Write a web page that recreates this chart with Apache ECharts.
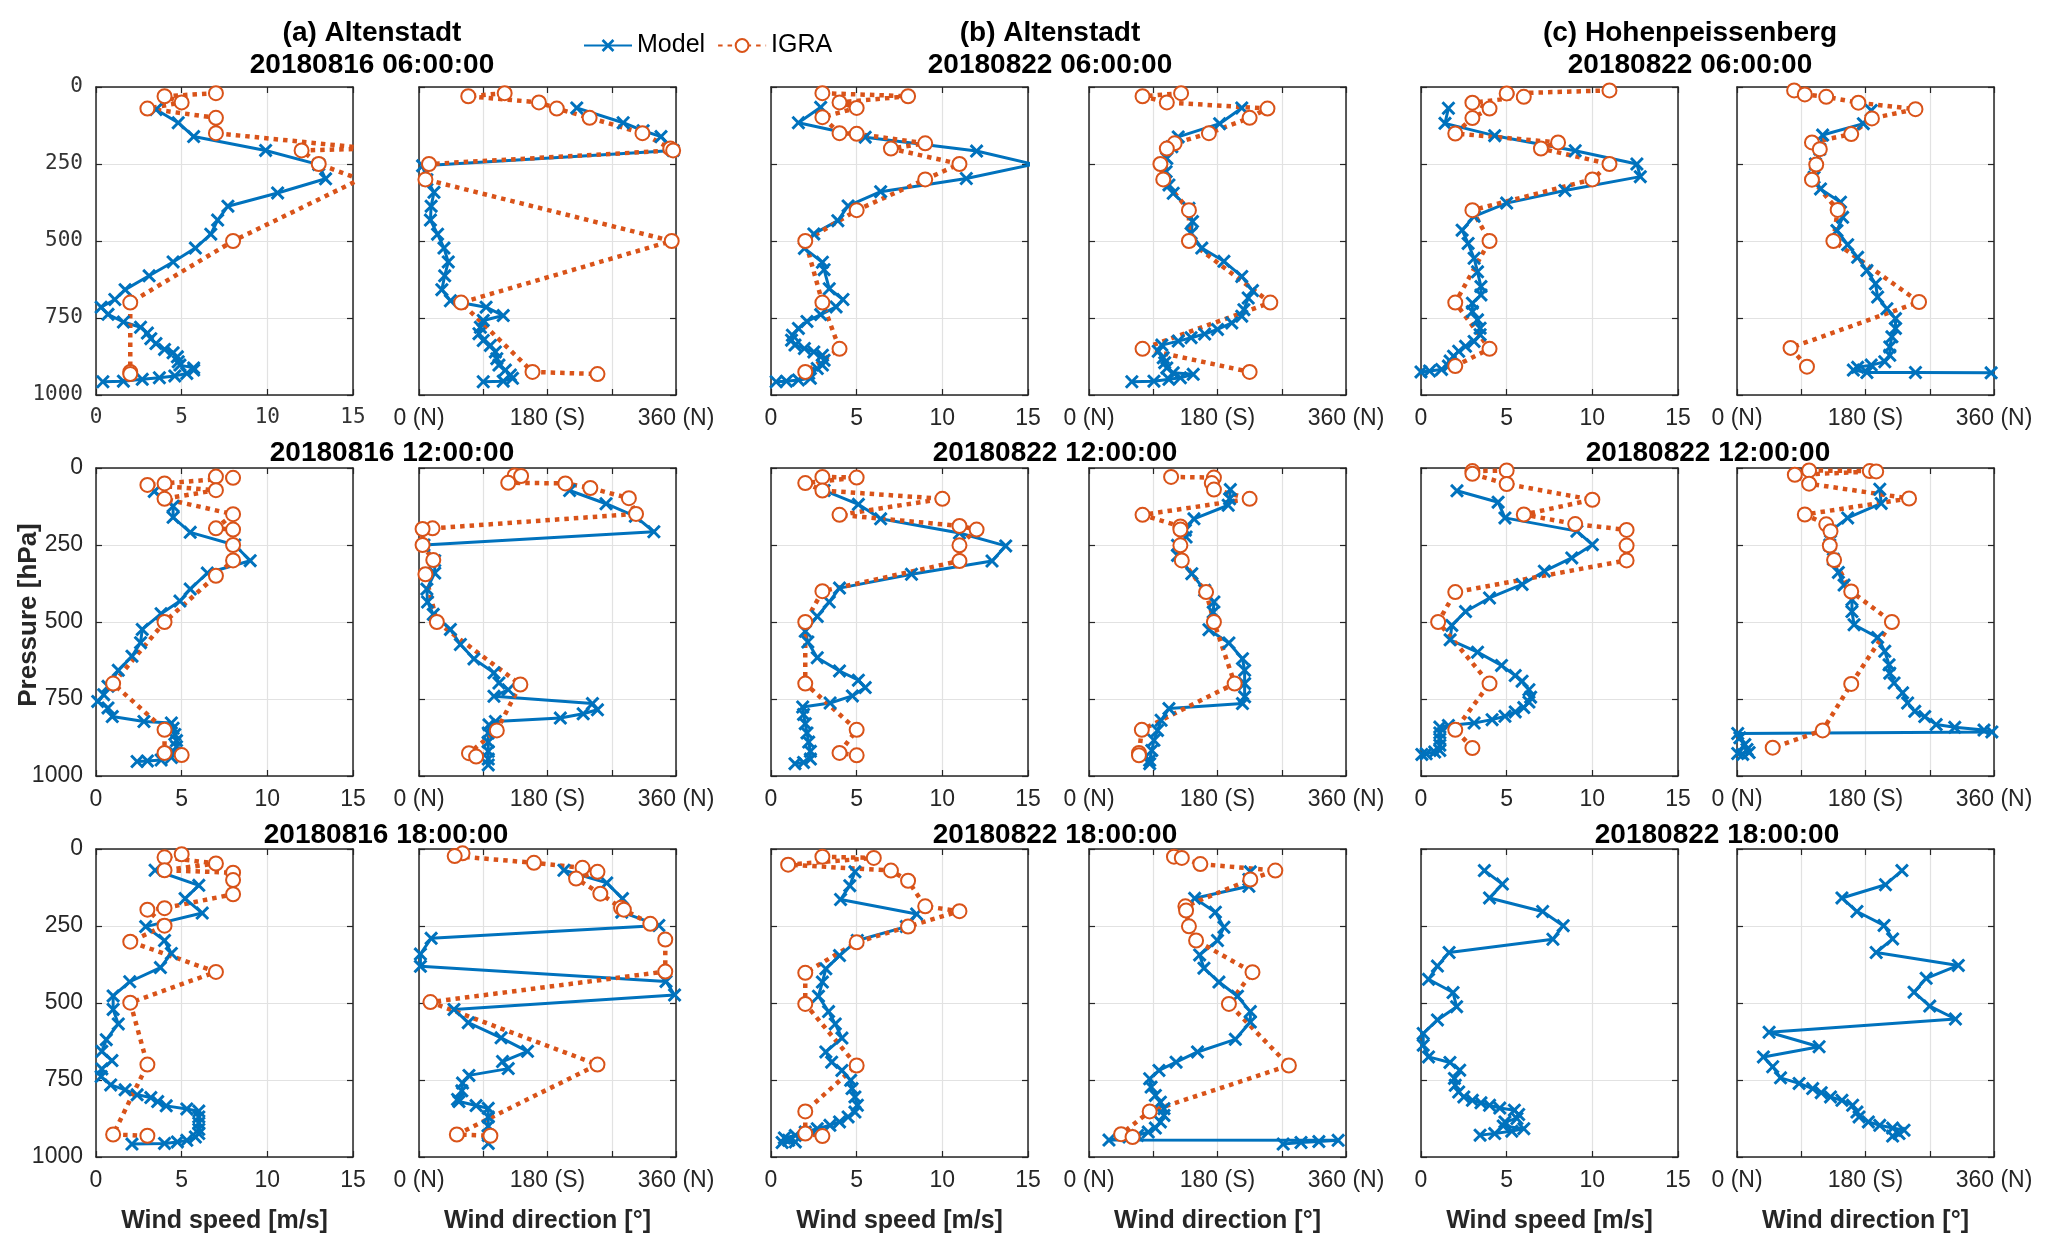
<!DOCTYPE html>
<html>
<head>
<meta charset="utf-8">
<script src="https://cdn.jsdelivr.net/npm/echarts@6/dist/echarts.min.js"></script>
<style>
  html, body { margin: 0; padding: 0; background: #fff; }
  #profiles { width: 2067px; height: 1242px; }
</style>
</head>
<body>
<div id="profiles"></div>
<script>
// each point is [value, pressure hPa]
// ---- 06:00 ----
var a06_spd_mod = [[3.5,73],[4.8,116],[5.7,161],[9.9,206],[13.0,252],[13.4,298],[10.6,344],[7.7,387],[7.1,432],[6.7,478],[5.8,523],[4.5,568],[3.1,613],[1.7,658],[1.1,690],[0.3,715],[0.7,738],[1.6,763],[2.6,780],[3.0,799],[3.2,817],[3.5,833],[4.0,852],[4.5,863],[4.75,876],[4.8,892],[4.9,903],[5.7,912],[5.7,919],[5.3,930],[4.6,938],[3.7,944],[2.7,949],[1.6,955],[0.4,957]];
var a06_spd_igra = [[7,20],[4,30],[5,50],[3,70],[7,100],[7,150],[16,200],[12,206],[13,250],[15.4,300],[8,500],[2,700],[2,925],[2,932]];
var a06_dir_mod = [[221,68],[286,116],[314,142],[339,161],[356,206],[5,256],[11,301],[21,342],[17,387],[16,432],[26,478],[35,523],[41,568],[36,613],[32,658],[44,694],[94,715],[118,742],[90,758],[86,780],[84,801],[90,823],[100,839],[107,860],[109,882],[112,903],[121,919],[128,935],[131,946],[118,955],[90,957]];
var a06_dir_igra = [[120,20],[69,30],[168,50],[193,70],[239,100],[313,150],[352,200],[356,206],[14,250],[9,300],[354,500],[59,700],[159,925],[250,932]];

var b06_spd_mod = [[2.9,66],[1.6,116],[5.5,163],[12.0,208],[15.3,251],[11.4,297],[6.4,340],[4.5,386],[3.9,434],[2.5,477],[1.95,524],[3.0,569],[3.1,593],[3.4,655],[4.2,690],[3.8,714],[2.9,739],[2.1,761],[1.6,784],[1.25,806],[1.2,822],[1.4,838],[1.95,849],[2.5,860],[3.0,871],[3.1,887],[3.0,903],[2.7,914],[2.2,930],[2.3,946],[1.6,951],[0.9,955],[0.3,957]];
var b06_spd_igra = [[3,20],[8,30],[4,50],[5,68],[3,98],[4,150],[5,152],[9,183],[7,200],[11,250],[9,300],[5,400],[2,500],[3,700],[4,850],[2,925]];
var b06_dir_mod = [[214,68],[183,119],[125,162],[116,194],[109,232],[108,275],[112,318],[118,345],[140,394],[145,437],[143,475],[158,523],[189,566],[214,615],[229,661],[223,685],[217,723],[214,744],[200,766],[180,787],[162,802],[143,814],[125,825],[102,838],[97,858],[104,879],[106,895],[109,912],[118,928],[146,933],[128,944],[112,949],[91,955],[60,957]];
var b06_dir_igra = [[129,20],[75,30],[109,50],[250,70],[225,100],[168,150],[120,183],[109,200],[100,250],[104,300],[140,400],[140,500],[254,700],[75,850],[225,925]];

var c06_spd_mod = [[1.6,69],[1.4,118],[4.3,158],[9.0,207],[12.6,250],[12.8,291],[8.4,336],[5.0,377],[3.1,420],[2.4,465],[2.75,508],[3.1,556],[3.3,600],[3.5,648],[3.5,675],[3.0,702],[3.0,729],[3.3,756],[3.45,783],[3.45,804],[3.1,826],[2.6,842],[2.2,858],[1.9,874],[1.7,890],[1.6,906],[1.2,917],[0.5,922],[0,925]];
var c06_spd_igra = [[11,11],[5,21],[6,32],[3,51],[4,70],[3,101],[2,151],[8,180],[7,200],[11,250],[10,300],[3,400],[4,500],[2,700],[4,850],[2,906]];
var c06_dir_mod = [[188,76],[177,119],[120,156],[116,202],[110,250],[108,293],[117,331],[145,374],[148,423],[140,466],[155,512],[169,553],[182,596],[194,639],[197,682],[210,720],[222,752],[222,784],[217,811],[214,844],[214,871],[207,892],[188,903],[169,910],[163,919],[182,927],[250,927],[356,928]];
var c06_dir_igra = [[80,11],[95,24],[125,32],[170,51],[250,72],[189,102],[160,153],[105,180],[116,202],[111,252],[105,301],[141,399],[135,500],[255,698],[75,847],[98,908]];

// ---- 12:00 ----
var a12_spd_mod = [[3.4,76],[4.5,124],[4.5,160],[5.5,209],[8.1,250],[9.0,301],[6.5,341],[5.5,393],[4.9,432],[3.8,473],[2.7,524],[2.6,567],[2.1,611],[1.3,657],[0.7,709],[0.45,736],[0.1,758],[0.7,779],[0.95,807],[2.8,823],[4.4,828],[4.5,845],[4.6,865],[4.7,885],[4.7,905],[4.6,925],[4.4,940],[3.8,948],[3.0,951],[2.4,953]];
var a12_spd_igra = [[7,28],[8,32],[4,50],[3,55],[7,72],[4,100],[8,150],[7,196],[8,200],[8,250],[8,300],[7,350],[4,500],[1,700],[4,850],[4,925],[5,932]];
var a12_dir_mod = [[211,73],[262,116],[303,157],[329,207],[7,250],[22,301],[22,341],[11,393],[12,435],[20,475],[44,524],[58,573],[77,620],[105,665],[112,698],[125,720],[105,741],[243,765],[250,785],[230,798],[198,812],[107,823],[98,834],[97,860],[97,890],[97,920],[97,945],[97,964]];
var a12_dir_igra = [[134,24],[143,26],[125,48],[205,50],[240,65],[294,98],[304,149],[19,196],[5,198],[5,250],[20,299],[9,345],[25,500],[142,703],[109,852],[70,926],[80,937]];

var b12_spd_mod = [[3.1,73],[5.1,118],[6.4,165],[11.0,211],[13.7,253],[12.9,302],[8.2,345],[4.0,390],[3.4,435],[2.7,482],[2.0,530],[2.15,565],[2.7,616],[4.0,659],[5.1,689],[5.5,713],[4.75,740],[3.45,763],[1.85,776],[1.9,800],[2.0,830],[2.1,860],[2.2,890],[2.3,920],[2.3,945],[1.9,956],[1.4,960]];
var b12_spd_igra = [[3,29],[5,31],[2,49],[3,73],[10,100],[4,152],[11,188],[12,200],[11,251],[11,302],[3,400],[2,500],[2,700],[5,850],[4,925],[5,933]];
var b12_dir_mod = [[198,70],[197,100],[195,121],[147,165],[135,202],[136,224],[124,251],[124,284],[144,343],[162,397],[175,435],[174,468],[168,525],[196,568],[215,619],[218,657],[218,700],[218,743],[215,765],[112,781],[101,819],[96,852],[91,884],[88,917],[85,949],[85,960]];
var b12_dir_igra = [[115,29],[175,31],[172,49],[175,70],[225,100],[75,152],[128,190],[128,200],[128,251],[130,300],[164,403],[175,500],[204,700],[74,850],[70,925],[70,933]];

var c12_spd_mod = [[2.1,74],[4.5,111],[4.9,162],[9.1,205],[10.0,249],[8.8,292],[7.2,335],[5.9,378],[4.0,422],[2.6,466],[1.8,511],[1.7,558],[3.3,598],[4.7,641],[5.5,674],[5.9,692],[6.3,720],[6.4,744],[6.3,760],[6.0,778],[5.5,792],[4.9,806],[4.15,817],[3.1,828],[1.6,836],[1.1,841],[1.1,860],[1.1,880],[1.1,900],[1.1,917],[0.8,922],[0.3,928],[0.05,930]];
var c12_spd_igra = [[5,8],[3,10],[3,19],[5,52],[10,103],[6,151],[9,182],[12,201],[12,252],[12,300],[2,403],[1,500],[4,700],[2,850],[3,909]];
var c12_dir_mod = [[200,69],[202,115],[155,162],[131,205],[130,250],[135,296],[142,339],[150,380],[161,428],[161,466],[164,509],[197,550],[207,595],[213,639],[214,666],[220,698],[232,730],[239,763],[249,790],[263,807],[279,833],[305,842],[346,851],[357,857],[1,862],[4,876],[11,898],[14,914],[17,924],[1,927],[8,930]];
var c12_dir_igra = [[101,8],[186,10],[195,11],[81,22],[101,51],[241,99],[95,151],[125,183],[131,205],[130,252],[136,299],[160,401],[217,500],[160,701],[120,852],[50,908]];

// ---- 18:00 ----
var a18_spd_mod = [[3.45,69],[6.0,118],[5.2,161],[6.2,208],[2.9,252],[4.0,297],[4.4,339],[3.76,385],[1.97,431],[1.0,477],[1.0,521],[1.3,568],[0.6,619],[0.34,657],[0.93,687],[0.34,714],[0.3,739],[0.86,766],[1.7,782],[2.4,798],[3.2,807],[3.6,820],[4.1,834],[5.3,844],[6.0,851],[6.0,870],[6.0,890],[6.0,910],[6.0,924],[5.8,935],[5.3,946],[4.75,951],[4.0,956],[2.1,958]];
var a18_spd_igra = [[5,17],[4,27],[7,47],[4,69],[8,77],[8,101],[8,147],[4,192],[3,197],[4,249],[2,301],[7,399],[2,499],[3,700],[1,927],[3,931]];
var a18_dir_mod = [[203,69],[263,110],[285,161],[284,205],[336,248],[17,290],[2,341],[2,381],[346,430],[358,474],[49,521],[69,564],[115,613],[152,657],[117,690],[125,713],[70,735],[61,760],[60,785],[54,813],[56,820],[80,833],[97,842],[97,870],[97,900],[97,930],[97,956]];
var a18_dir_igra = [[61,14],[50,23],[161,45],[229,61],[250,74],[220,96],[254,145],[283,191],[287,197],[324,243],[345,294],[345,398],[16,497],[250,700],[53,927],[100,931]];

var b18_spd_mod = [[4.9,74],[4.6,119],[4.06,164],[8.5,211],[7.9,252],[5.04,297],[4.0,346],[3.2,389],[3.0,432],[2.77,478],[3.36,528],[3.75,568],[4.14,614],[3.2,659],[3.54,692],[4.14,719],[4.65,751],[4.73,778],[4.9,805],[5.04,832],[4.9,854],[4.5,870],[4.0,886],[3.44,897],[2.7,908],[2.0,919],[1.42,930],[0.78,938],[1.03,946],[1.42,951],[0.65,953]];
var b18_spd_igra = [[3,25],[6,29],[1,51],[7,70],[8,103],[9,186],[11,202],[8,252],[5,303],[2,402],[2,503],[5,703],[2,852],[2,924],[3,932]];
var b18_dir_mod = [[226,74],[224,99],[224,121],[148,160],[177,205],[189,254],[180,297],[155,344],[161,387],[182,432],[208,478],[226,528],[226,562],[205,618],[152,659],[122,692],[98,719],[85,746],[87,773],[93,800],[100,822],[105,843],[105,865],[100,886],[93,906],[83,919],[68,930],[56,935],[28,945],[349,946],[322,950],[297,953],[272,958]];
var b18_dir_igra = [[119,25],[130,29],[156,49],[261,70],[226,99],[135,186],[136,200],[140,251],[150,297],[229,400],[196,503],[280,703],[85,852],[45,926],[61,935]];

var c18_spd_mod = [[3.7,70],[4.75,114],[4.0,159],[7.1,203],[8.3,249],[7.7,293],[1.64,336],[0.96,380],[0.44,423],[1.87,466],[2.08,512],[0.96,555],[0.13,599],[0.13,637],[0.44,675],[1.69,693],[2.26,718],[1.95,745],[2.0,767],[2.2,789],[2.5,805],[3.0,816],[3.5,824],[4.0,832],[4.6,841],[5.45,848],[5.7,862],[5.6,875],[4.9,886],[4.8,899],[6.0,908],[5.3,916],[4.3,924],[3.45,929]];
var c18_spd_igra = [];
var c18_dir_mod = [[231,70],[208,116],[147,159],[168,203],[206,248],[218,292],[195,336],[310,378],[265,420],[248,465],[270,510],[306,552],[45,595],[115,642],[37,675],[50,707],[61,743],[87,761],[106,778],[118,791],[131,805],[147,816],[162,832],[168,854],[171,870],[184,886],[200,897],[218,906],[234,913],[227,924],[218,932]];
var c18_dir_igra = [];

var stationTitles = ['(a) Altenstadt', '(b) Altenstadt', '(c) Hohenpeissenberg'];
var dateTitles = [
  ['20180816 06:00:00', '20180822 06:00:00', '20180822 06:00:00'],
  ['20180816 12:00:00', '20180822 12:00:00', '20180822 12:00:00'],
  ['20180816 18:00:00', '20180822 18:00:00', '20180822 18:00:00']
];

// rows x stations: [speed model, speed igra, dir model, dir igra]
var panels = [
  [[a06_spd_mod, a06_spd_igra, a06_dir_mod, a06_dir_igra], [b06_spd_mod, b06_spd_igra, b06_dir_mod, b06_dir_igra], [c06_spd_mod, c06_spd_igra, c06_dir_mod, c06_dir_igra]],
  [[a12_spd_mod, a12_spd_igra, a12_dir_mod, a12_dir_igra], [b12_spd_mod, b12_spd_igra, b12_dir_mod, b12_dir_igra], [c12_spd_mod, c12_spd_igra, c12_dir_mod, c12_dir_igra]],
  [[a18_spd_mod, a18_spd_igra, a18_dir_mod, a18_dir_igra], [b18_spd_mod, b18_spd_igra, b18_dir_mod, b18_dir_igra], [c18_spd_mod, c18_spd_igra, c18_dir_mod, c18_dir_igra]]
];

var BLUE = '#0072BD', RED = '#D95319', AX = '#262626';
var FONT = '"Liberation Sans", Arial, sans-serif';
var MONO = '"DejaVu Sans Mono", monospace';
var XMARK = 'path://M3,0L10,7L17,0L20,3L13,10L20,17L17,20L10,13L3,20L0,17L7,10L0,3Z';

var colLeft = [96, 419, 771, 1089, 1421, 1737];
var rowTop = [87, 468, 849];
var panelW = 257, panelH = 308;
var titleX = [[372, 1050, 1690], [392, 1055, 1708], [386, 1055, 1717]];
var titleY = [65, 453, 835];

var chart = echarts.init(document.getElementById('profiles'));

var grids = [], xAxes = [], yAxes = [], series = [], graphics = [];

function dirLabel(v) {
  if (v === 0) return '0 (N)';
  if (v === 180) return '180 (S)';
  if (v === 360) return '360 (N)';
  return '';
}
function plainLabel(v) { return String(v); }

for (var r = 0; r < 3; r++) {
  for (var c = 0; c < 6; c++) {
    var g = grids.length;
    var st = Math.floor(c / 2);
    var isDir = c % 2 === 1;
    var mono = (r === 0 && c === 0);
    var tickFont = mono ? { fontFamily: MONO, fontSize: 21, color: '#333' } : { fontFamily: FONT, fontSize: 23, color: AX };
    grids.push({ left: colLeft[c], top: rowTop[r], width: panelW, height: panelH });

    var xmax = isDir ? 360 : 15, xint = isDir ? 90 : 5;
    xAxes.push({
      gridIndex: g, type: 'value', min: 0, max: xmax, interval: xint, position: 'bottom',
      axisLine: { show: true, onZero: false, lineStyle: { color: AX, width: 1.5 } },
      axisTick: { show: true, inside: true, length: 6, lineStyle: { color: AX, width: 1.2 } },
      splitLine: { show: true, lineStyle: { color: '#e2e2e2', width: 1.2 } },
      axisLabel: Object.assign({ show: true, margin: 12, showMinLabel: true, showMaxLabel: true,
        formatter: isDir ? dirLabel : plainLabel }, tickFont),
      name: r === 2 ? (isDir ? 'Wind direction [°]' : 'Wind speed [m/s]') : '',
      nameLocation: 'middle', nameGap: 52,
      nameTextStyle: { fontFamily: FONT, fontSize: 25, fontWeight: 'bold', color: AX }
    });
    xAxes.push({
      gridIndex: g, type: 'value', min: 0, max: xmax, interval: xint, position: 'top',
      axisLine: { show: true, onZero: false, lineStyle: { color: AX, width: 1.5 } },
      axisTick: { show: true, inside: true, length: 6, lineStyle: { color: AX, width: 1.2 } },
      splitLine: { show: false }, axisLabel: { show: false }
    });
    yAxes.push({
      gridIndex: g, type: 'value', inverse: true, min: 0, max: 1000, interval: 250, position: 'left',
      axisLine: { show: true, onZero: false, lineStyle: { color: AX, width: 1.5 } },
      axisTick: { show: true, inside: true, length: 6, lineStyle: { color: AX, width: 1.2 } },
      splitLine: { show: true, lineStyle: { color: '#e2e2e2', width: 1.2 } },
      axisLabel: Object.assign({ show: c === 0, margin: 13, showMinLabel: true, showMaxLabel: true,
        formatter: plainLabel }, tickFont)
    });
    yAxes.push({
      gridIndex: g, type: 'value', inverse: true, min: 0, max: 1000, interval: 250, position: 'right',
      axisLine: { show: true, onZero: false, lineStyle: { color: AX, width: 1.5 } },
      axisTick: { show: true, inside: true, length: 6, lineStyle: { color: AX, width: 1.2 } },
      splitLine: { show: false }, axisLabel: { show: false }
    });

    var set = panels[r][st];
    var modelData = isDir ? set[2] : set[0];
    var igraData = isDir ? set[3] : set[1];

    series.push({
      name: 'Model', type: 'line', xAxisIndex: 2 * g, yAxisIndex: 2 * g,
      data: modelData, symbol: XMARK, symbolSize: 14, clip: true,
      lineStyle: { color: BLUE, width: 3 }, itemStyle: { color: BLUE }
    });
    series.push({
      name: 'IGRA', type: 'line', xAxisIndex: 2 * g, yAxisIndex: 2 * g,
      data: igraData, symbol: 'emptyCircle', symbolSize: 14, clip: true,
      lineStyle: { color: RED, width: 4.5, type: [4.5, 5] },
      itemStyle: { color: RED, borderColor: RED, borderWidth: 4 }
    });
  }
}

// titles
for (var s = 0; s < 3; s++) {
  graphics.push({ type: 'text', x: titleX[0][s], y: 33,
    style: { text: stationTitles[s], font: 'bold 28px ' + FONT, fill: '#000', align: 'center', verticalAlign: 'middle' } });
}
for (var rr = 0; rr < 3; rr++) {
  for (var s2 = 0; s2 < 3; s2++) {
    graphics.push({ type: 'text', x: titleX[rr][s2], y: titleY[rr],
      style: { text: dateTitles[rr][s2], font: 'bold 28px ' + FONT, fill: '#000', align: 'center', verticalAlign: 'middle' } });
  }
}
graphics.push({ type: 'text', x: 29, y: 615, rotation: Math.PI / 2,
  style: { text: 'Pressure [hPa]', font: 'bold 26px ' + FONT, fill: AX, align: 'center', verticalAlign: 'middle' } });

chart.setOption({
  animation: false,
  backgroundColor: '#fff',
  legend: {
    data: ['Model', 'IGRA'], left: 578, top: 28, itemWidth: 48, itemHeight: 16, itemGap: 12,
    textStyle: { fontFamily: FONT, fontSize: 25, color: '#000' }
  },
  grid: grids,
  xAxis: xAxes,
  yAxis: yAxes,
  series: series,
  graphic: graphics
});
</script>
</body>
</html>
